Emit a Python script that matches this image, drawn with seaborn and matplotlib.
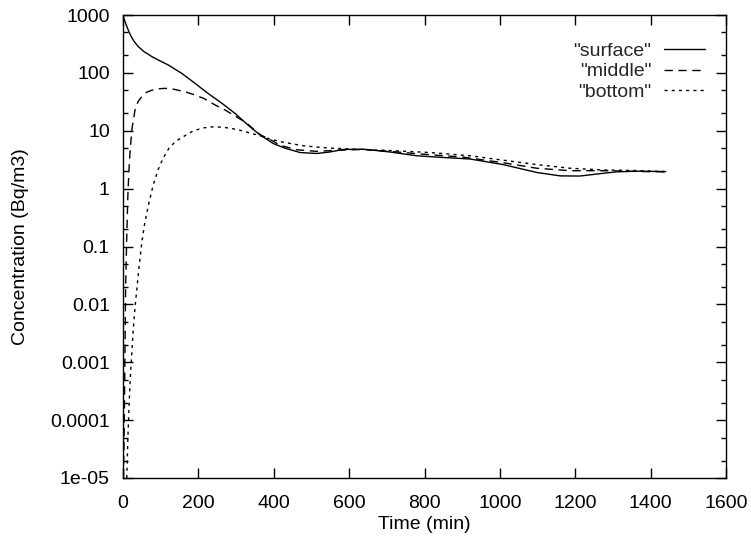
import numpy as np
import pandas as pd
import matplotlib
matplotlib.use("Agg")
import matplotlib.pyplot as plt
import matplotlib.ticker as mticker
import seaborn as sns

# ---- data ----
t_surface = [0, 3, 7, 12, 19, 25, 30, 41, 55, 76, 95, 120, 156, 191, 226, 262, 297,
             332, 362, 399, 430, 470, 514, 549, 585, 638, 708, 779, 850, 921, 1009,
             1098, 1160, 1212, 1274, 1310, 1363, 1440]
c_surface = [950, 850, 720, 590, 460, 390, 345, 283, 235, 192, 165, 137, 98, 66, 44,
             30, 20, 12.5, 8.6, 6.0, 5.0, 4.2, 4.05, 4.3, 4.75, 4.8, 4.3, 3.7, 3.45,
             3.25, 2.6, 1.9, 1.66, 1.65, 1.84, 1.95, 2.0, 1.97]

t_middle = [1, 3, 5, 7, 10, 13, 16, 19, 24, 32, 40, 50, 62, 76, 92, 111, 130, 147,
            170, 191, 215, 244, 270, 297, 325, 350, 365, 395, 417, 461, 514, 567,
            638, 726, 815, 903, 1009, 1098, 1186, 1274, 1363, 1440]
c_middle = [1e-5, 5e-5, 1e-3, 0.02, 0.15, 0.8, 2.2, 4.7, 11, 23, 32, 39, 46, 50, 53,
            54, 53, 50, 46, 41.5, 36, 28, 23, 18, 14, 10.2, 8.5, 6.8, 5.6, 4.7, 4.4,
            4.6, 4.75, 4.3, 3.85, 3.5, 2.8, 2.25, 2.04, 2.04, 1.98, 1.95]

t_bottom = [10, 13, 16, 19, 23, 27, 32, 41, 50, 58, 67, 80, 94, 107, 122, 140, 160,
            187, 213, 240, 265, 290, 319, 340, 362, 386, 417, 478, 549, 638, 726,
            815, 921, 1009, 1098, 1186, 1274, 1363, 1440]
c_bottom = [1e-5, 5e-5, 1.7e-4, 5e-4, 1.3e-3, 3.5e-3, 9e-3, 0.035, 0.12, 0.26, 0.5,
            1.15, 2.2, 3.4, 5.0, 6.6, 7.9, 10.0, 11.2, 11.7, 11.5, 10.9, 9.9, 9.0,
            8.3, 7.3, 6.5, 5.5, 5.0, 4.75, 4.5, 4.2, 3.7, 3.1, 2.6, 2.25, 2.1, 2.05,
            1.97]

labels = ['"surface"', '"middle"', '"bottom"']
x_ticks = [0, 200, 400, 600, 800, 1000, 1200, 1400, 1600]
y_ticks = [1e-5, 1e-4, 1e-3, 1e-2, 1e-1, 1, 10, 100, 1000]
y_ticklabels = ["1e-05", "0.0001", "0.001", "0.01", "0.1", "1", "10", "100", "1000"]

sns.set_theme(style="ticks")
plt.rcParams["font.family"] = ["Liberation Sans", "DejaVu Sans"]

fig = plt.figure(figsize=(7.51, 5.37), dpi=100)
ax = fig.add_axes([123 / 751, 1 - 478 / 537, 603 / 751, 463 / 537])

styles = ["-", (0, (6, 4)), (0, (2.2, 3))]
series = [(t_surface, c_surface), (t_middle, c_middle), (t_bottom, c_bottom)]
for (t, c), lab, ls in zip(series, labels, styles):
    sns.lineplot(x=t, y=c, ax=ax, color="black", linestyle=ls, linewidth=1.0,
                 label=lab, sort=False, estimator=None)

ax.set_yscale("log")
ax.set_xlim(0, 1600)
ax.set_ylim(1e-5, 1000)
ax.set_xticks(x_ticks)
ax.set_xticklabels([str(v) for v in x_ticks])
ax.set_yticks(y_ticks)
ax.set_yticklabels(y_ticklabels)
ax.yaxis.set_minor_locator(mticker.LogLocator(base=10, subs=(2.0, 5.0), numticks=20))
ax.yaxis.set_minor_formatter(mticker.NullFormatter())

ax.tick_params(which="both", direction="in", top=True, right=True, width=1.0,
               color="black", labelsize=14, labelcolor="black")
ax.tick_params(axis="x", which="major", pad=12)
ax.tick_params(axis="y", which="major", pad=9.5)
ax.tick_params(which="major", length=7)
ax.tick_params(which="minor", length=3.5)
for s in ax.spines.values():
    s.set_visible(True)
    s.set_linewidth(1.0)
    s.set_color("black")

ax.set_xlabel("Time (min)", fontsize=14, color="black", labelpad=3)
ax.set_ylabel("Concentration (Bq/m3)", fontsize=14, color="black", labelpad=15.5)

leg = ax.legend(loc="upper right", bbox_to_anchor=(0.965, 0.941), markerfirst=False,
                frameon=False, fontsize=14, handlelength=2.1, handletextpad=0.65,
                labelspacing=0.15, borderpad=0, borderaxespad=0)
for line in leg.get_lines():
    line.set_linewidth(1.0)

fig.savefig("out.png", dpi=100, facecolor="white")
